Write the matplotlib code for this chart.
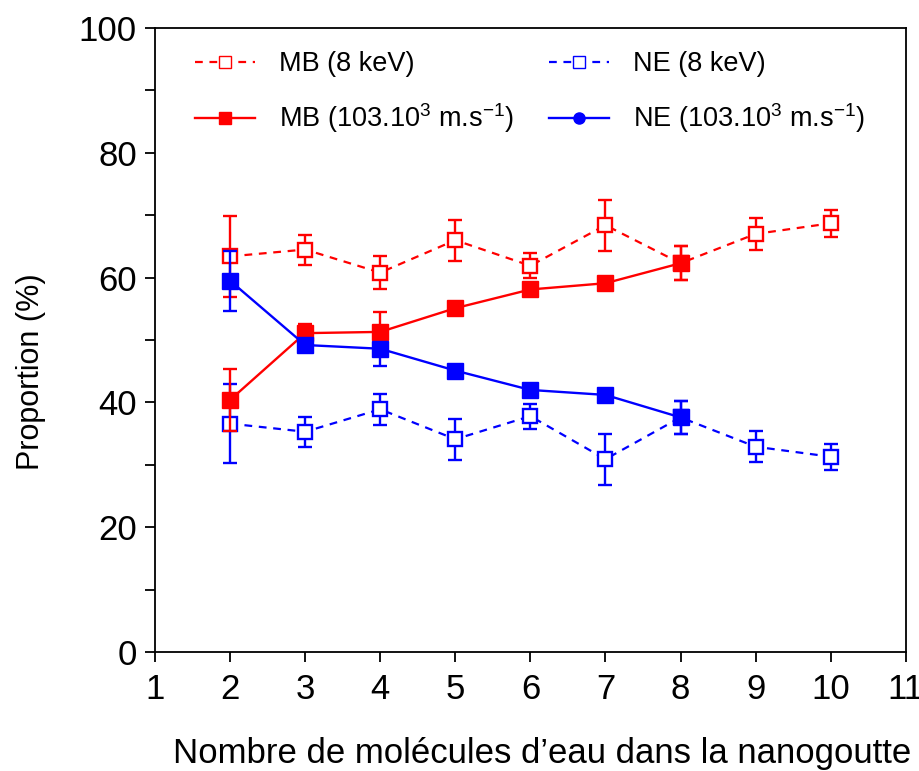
import numpy as np
import matplotlib.pyplot as plt
from matplotlib.lines import Line2D
from matplotlib.ticker import MultipleLocator

plt.rcParams['font.family'] = ['Liberation Sans', 'DejaVu Sans']
plt.rcParams['mathtext.fontset'] = 'custom'
plt.rcParams['mathtext.rm'] = 'Liberation Sans'
plt.rcParams['mathtext.it'] = 'Liberation Sans'

# data
n_8kev = [2, 3, 4, 5, 6, 7, 8, 9, 10]
mb_8kev = [63.4, 64.5, 60.8, 66.0, 61.9, 68.4, 62.3, 67.0, 68.7]
mb_8kev_err = [6.5, 2.4, 2.6, 3.3, 2.0, 4.1, 2.7, 2.5, 2.2]
ne_8kev = [36.6, 35.3, 38.9, 34.1, 37.8, 30.9, 37.6, 32.9, 31.3]
ne_8kev_err = [6.3, 2.4, 2.5, 3.3, 2.0, 4.1, 2.7, 2.5, 2.1]

n_vel = [2, 3, 4, 5, 6, 7, 8]
mb_vel = [40.4, 51.1, 51.3, 55.1, 58.1, 59.1, 62.3]
mb_vel_err = [5.0, 1.4, 3.2, 0.5, 0.5, 0.5, 2.7]
ne_vel = [59.5, 49.2, 48.6, 45.1, 42.0, 41.2, 37.6]
ne_vel_err = [4.8, 0.8, 2.7, 0.5, 0.5, 0.5, 2.7]

fig = plt.figure(figsize=(9.2, 7.71), dpi=100)
ax = fig.add_axes([0.1685, 0.1543, 0.816, 0.8094])

red = '#ff0000'
blue = '#0000ff'
dash = (0, (3.5, 3))

ax.errorbar(n_8kev, mb_8kev, yerr=mb_8kev_err, color=red, ls=dash, lw=1.6,
            marker='s', ms=10, mfc='white', mec=red, mew=1.7,
            capsize=5, elinewidth=1.7, capthick=1.7, zorder=3)
ax.errorbar(n_8kev, ne_8kev, yerr=ne_8kev_err, color=blue, ls=dash, lw=1.6,
            marker='s', ms=10, mfc='white', mec=blue, mew=1.7,
            capsize=5, elinewidth=1.7, capthick=1.7, zorder=3)
ax.errorbar(n_vel, mb_vel, yerr=mb_vel_err, color=red, ls='-', lw=1.7,
            marker='s', ms=11, mfc=red, mec=red,
            capsize=5, elinewidth=1.7, capthick=1.7, zorder=4)
ax.errorbar(n_vel, ne_vel, yerr=ne_vel_err, color=blue, ls='-', lw=1.7,
            marker='s', ms=11, mfc=blue, mec=blue,
            capsize=5, elinewidth=1.7, capthick=1.7, zorder=4)

ax.set_xlim(1, 11)
ax.set_ylim(0, 100)
ax.xaxis.set_major_locator(MultipleLocator(1))
ax.yaxis.set_major_locator(MultipleLocator(20))
ax.yaxis.set_minor_locator(MultipleLocator(10))
ax.tick_params(axis='both', which='both', direction='out', length=7,
               width=1.3, labelsize=25, top=False, right=False)
ax.tick_params(axis='x', pad=8)
ax.tick_params(axis='y', pad=6)
for s in ax.spines.values():
    s.set_linewidth(1.3)

ax.set_ylabel('Proportion (%)', fontsize=22)
ax.yaxis.set_label_coords(-0.145, 0.45)
ax.set_xlabel("Nombre de molécules d\u2019eau dans la nanogoutte", fontsize=25)
ax.xaxis.set_label_coords(0.516, -0.136)

# legend (the NE velocity entry is drawn with a circle in the original)
h = [
    Line2D([], [], color=red, ls=dash, lw=1.6, marker='s', ms=8,
           mfc='white', mec=red),
    Line2D([], [], color=red, ls='-', lw=1.7, marker='s', ms=9, mfc=red, mec=red),
    Line2D([], [], color=blue, ls=dash, lw=1.6, marker='s', ms=8,
           mfc='white', mec=blue),
    Line2D([], [], color=blue, ls='-', lw=1.7, marker='o', ms=8, mfc=blue, mec=blue),
]
labels = ['MB (8 keV)', 'MB (103.10$^{3}$ m.s$^{-1}$)',
          'NE (8 keV)', 'NE (103.10$^{3}$ m.s$^{-1}$)']
ax.legend(h, labels, ncol=2, frameon=False, fontsize=19.5, loc='upper left',
          bbox_to_anchor=(0.039, 0.98), borderaxespad=0, handlelength=2.2,
          handletextpad=0.9, columnspacing=1.3, labelspacing=0.9)

fig.savefig('out.png', dpi=100)
